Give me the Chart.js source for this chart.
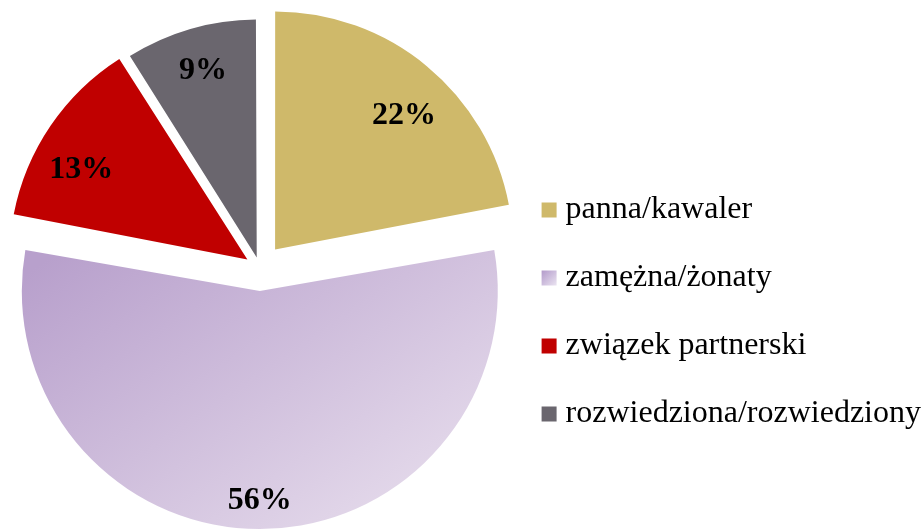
<!DOCTYPE html>
<html>
<head>
<meta charset="utf-8">
<script src="https://cdn.jsdelivr.net/npm/chart.js@4"></script>
<style>
  html, body { margin: 0; padding: 0; background: #fff; }
  #wrap { width: 921px; height: 532px; }
</style>
</head>
<body>
<div id="wrap"><canvas id="pieChart" width="921" height="532"></canvas></div>
<script>
const categories = ['panna/kawaler', 'zamężna/żonaty', 'związek partnerski', 'rozwiedziona/rozwiedziony'];
const shares = [22, 56, 13, 9];
const explode = [96, 92, 60, 44];
const labelRadius = [0.79, 0.87, 0.80, 0.83];
const labelTurn = [3.3, 0, -4.6, 0.4];

const ctx = document.getElementById('pieChart').getContext('2d');

// lavender slice shading, light toward the bottom
const lavender = ctx.createLinearGradient(20, 255, 262, 610);
lavender.addColorStop(0, '#b8a0cc');
lavender.addColorStop(1, '#e6dcec');

const lavenderKey = ctx.createLinearGradient(543, 270, 558, 285);
lavenderKey.addColorStop(0, '#b49ccb');
lavenderKey.addColorStop(1, '#ece6f2');

const colors = ['#cfb96a', lavender, '#c00000', '#6a666e'];

// chart.js grows the radius of exploded slices; keep them all the same size
const sameRadius = {
    id: 'sameRadius',
    beforeDatasetsDraw(chart) {
        const meta = chart.getDatasetMeta(0);
        const r = meta.controller.outerRadius;
        meta.data.forEach(arc => {
            const off = (arc.options.offset || 0) / 4;
            const fix = 1 - Math.sin(Math.min(Math.PI, arc.circumference || 0));
            arc.outerRadius = r - off * fix;
        });
    }
};

const percentLabels = {
    id: 'percentLabels',
    afterDatasetsDraw(chart) {
        const c = chart.ctx;
        const meta = chart.getDatasetMeta(0);
        const r = meta.controller.outerRadius;
        c.save();
        c.font = 'bold 32px "Liberation Serif"';
        c.fillStyle = '#000';
        c.textAlign = 'center';
        c.textBaseline = 'middle';
        meta.data.forEach((arc, i) => {
            const mid = (arc.startAngle + arc.endAngle) / 2 + labelTurn[i] * Math.PI / 180;
            const dist = (arc.options.offset || 0) / 4 + r * labelRadius[i];
            // digits sit a little high on the 'middle' baseline
            c.fillText(shares[i] + '%', arc.x + Math.cos(mid) * dist, arc.y + Math.sin(mid) * dist + 3);
        });
        c.restore();
    }
};

new Chart(ctx, {
    type: 'pie',
    data: {
        labels: categories,
        datasets: [{
            data: shares,
            backgroundColor: colors,
            borderWidth: 0,
            offset: explode,
            hoverOffset: 0
        }]
    },
    options: {
        responsive: false,
        animation: false,
        radius: 238,
        layout: { padding: { left: 7, top: 4, right: -10, bottom: 0 } },
        plugins: {
            legend: {
                position: 'right',
                title: {
                    display: true,
                    text: '',
                    font: { size: 10, lineHeight: 1 },
                    padding: { top: 39, bottom: 39 }
                },
                labels: {
                    usePointStyle: true,
                    pointStyle: 'rect',
                    boxWidth: 1,
                    boxHeight: 15,
                    padding: 36,
                    color: '#000',
                    font: { family: '"Liberation Serif"', size: 32 },
                    generateLabels(chart) {
                        const items = Chart.controllers.pie.overrides.plugins.legend.labels.generateLabels(chart);
                        items.forEach(item => { item.lineWidth = 0; item.strokeStyle = 'rgba(0,0,0,0)'; });
                        items[1].fillStyle = lavenderKey;
                        return items;
                    }
                }
            },
            tooltip: { enabled: false }
        }
    },
    plugins: [sameRadius, percentLabels]
});
</script>
</body>
</html>
